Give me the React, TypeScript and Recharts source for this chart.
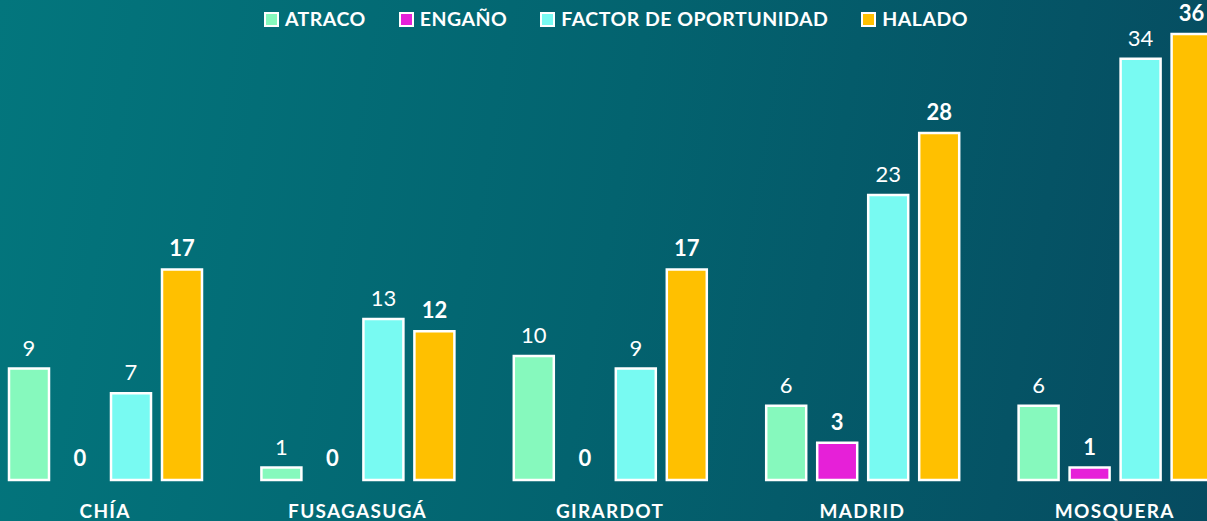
import React from 'react';
import { BarChart, Bar, XAxis, YAxis, LabelList, Rectangle } from 'recharts';

const municipios = ['CHÍA', 'FUSAGASUGÁ', 'GIRARDOT', 'MADRID', 'MOSQUERA'];
const atraco = [9, 1, 10, 6, 6];
const engano = [0, 0, 0, 3, 1];
const factorOportunidad = [7, 13, 9, 23, 34];
const halado = [17, 12, 17, 28, 36];

const series = [
  { key: 'atraco', name: 'ATRACO', color: '#86f9bd', bold: false },
  { key: 'engano', name: 'ENGAÑO', color: '#e620d8', bold: true },
  { key: 'factor', name: 'FACTOR DE OPORTUNIDAD', color: '#78faf2', bold: false },
  { key: 'halado', name: 'HALADO', color: '#ffc000', bold: true },
];

const data = municipios.map((m, i) => ({
  name: m,
  atraco: atraco[i],
  engano: engano[i],
  factor: factorOportunidad[i],
  halado: halado[i],
}));

const FONT = 'Lato, "Open Sans", sans-serif';

// zero values keep their label but draw no rectangle
const BarShape = (props: any) => {
  const v = props.payload ? props.payload[props.dataKey] : 0;
  if (!v) return <g />;
  return <Rectangle {...props} />;
};

export default function App() {
  return (
    <div
      style={{
        position: 'fixed',
        left: 0,
        top: 0,
        width: 1207,
        height: 521,
        overflow: 'hidden',
        background: 'linear-gradient(100deg, #03767d 0%, #03636f 50%, #064b60 100%)',
        fontFamily: FONT,
      }}
    >
      {/* legend */}
      <div
        style={{
          position: 'absolute',
          top: 8,
          left: 0,
          width: 1232,
          display: 'flex',
          justifyContent: 'center',
          gap: 33,
          color: '#fff',
          fontWeight: 700,
          fontSize: 19.5,
          letterSpacing: 0.5,
          lineHeight: '22px',
        }}
      >
        {series.map(s => (
          <div key={s.key} style={{ display: 'flex', alignItems: 'center' }}>
            <span
              style={{
                display: 'inline-block',
                width: 11,
                height: 11,
                background: s.color,
                border: '2px solid #fff',
                marginRight: 6,
              }}
            />
            {s.name}
          </div>
        ))}
      </div>

      <div style={{ position: 'absolute', left: -21, top: 0 }}>
        <BarChart
          width={1262}
          height={521}
          data={data}
          margin={{ top: 34, right: 0, bottom: 0, left: 0 }}
          barSize={40}
          barGap={11}
        >
          <XAxis
            dataKey="name"
            height={41}
            axisLine={false}
            tickLine={false}
            interval={0}
            tick={{ fill: '#fff', fontSize: 19, fontWeight: 700, fontFamily: FONT, letterSpacing: 1.3 }}
            dy={17}
          />
          <YAxis hide domain={[0, 36]} />
          {series.map(s => (
            <Bar
              key={s.key}
              dataKey={s.key}
              name={s.name}
              fill={s.color}
              stroke="#fff"
              strokeWidth={2.5}
              minPointSize={1}
              shape={<BarShape dataKey={s.key} />}
              isAnimationActive={false}
            >
              <LabelList
                dataKey={s.key}
                position="top"
                offset={13}
                fill="#fff"
                fontSize={22}
                fontWeight={s.bold ? 700 : 400}
                fontFamily={FONT}
              />
            </Bar>
          ))}
        </BarChart>
      </div>
    </div>
  );
}
